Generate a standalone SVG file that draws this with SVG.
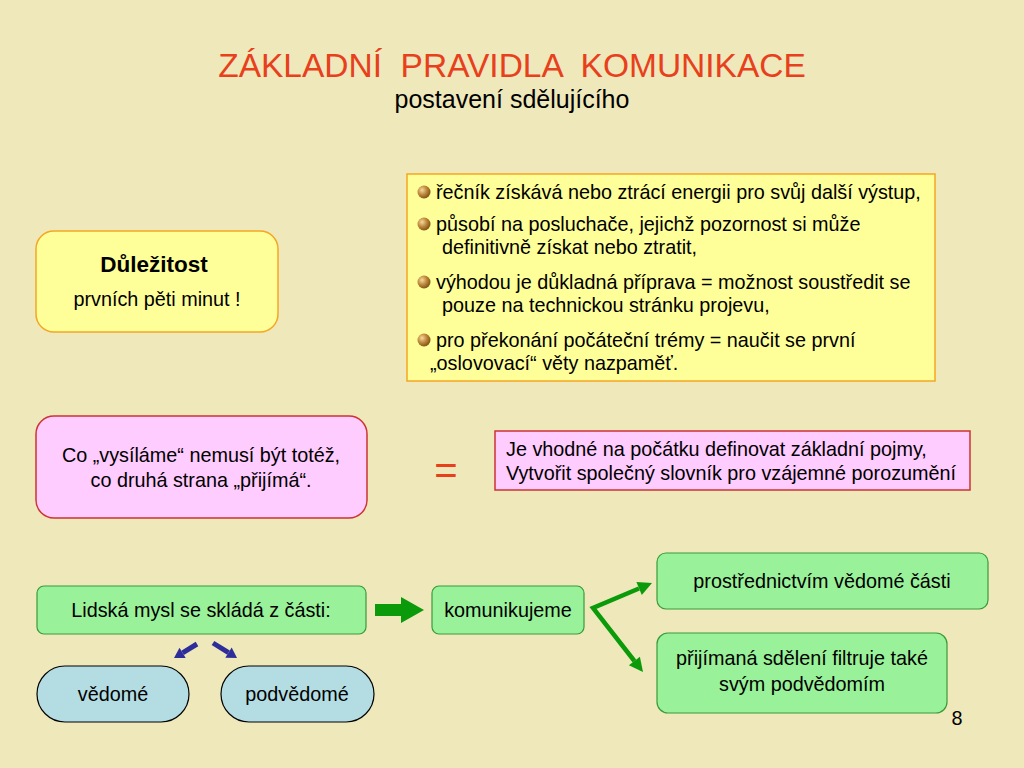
<svg xmlns="http://www.w3.org/2000/svg" width="1024" height="768" viewBox="0 0 1024 768">
<style>
text{font-family:"Liberation Sans",Arial,sans-serif;fill:#000;white-space:pre}
.t{font-size:19.8px}
.c{text-anchor:middle}
.yel{fill:#FFFF99;stroke:#F5A623;stroke-width:1.5}
.pink{fill:#FFCCFF;stroke:#CC3333;stroke-width:1.5}
.green{fill:#99F299;stroke:#3A9A3A;stroke-width:1.2}
.blue{fill:#B3DDE3;stroke:#000;stroke-width:1.2}
</style>
<defs>
<radialGradient id="ball" cx="0.35" cy="0.35" r="0.7">
<stop offset="0" stop-color="#F5D9A0"/>
<stop offset="0.5" stop-color="#C08A3A"/>
<stop offset="1" stop-color="#7A5018"/>
</radialGradient>
</defs>
<rect width="1024" height="768" fill="#EEE8BA"/>

<g id="title">
<text x="512" y="77" class="c" style="font-size:33.5px;fill:#E8401C">ZÁKLADNÍ  PRAVIDLA  KOMUNIKACE</text>
<text x="512" y="108" class="c" style="font-size:25px">postavení sdělujícího</text>
</g>

<g id="bullets">
<rect x="407" y="174" width="528" height="207" class="yel"/>
<circle cx="424" cy="192" r="6.5" fill="url(#ball)"/>
<circle cx="424" cy="224" r="6.5" fill="url(#ball)"/>
<circle cx="424" cy="282" r="6.5" fill="url(#ball)"/>
<circle cx="424" cy="340" r="6.5" fill="url(#ball)"/>
<text class="t" x="436" y="199">řečník získává nebo ztrácí energii pro svůj další výstup,</text>
<text class="t" x="436" y="231">působí na posluchače, jejichž pozornost si může</text>
<text class="t" x="442" y="254">definitivně získat nebo ztratit,</text>
<text class="t" x="436" y="289">výhodou je důkladná příprava = možnost soustředit se</text>
<text class="t" x="442" y="312">pouze na technickou stránku projevu,</text>
<text class="t" x="436" y="347">pro překonání počáteční trémy = naučit se první</text>
<text class="t" x="430" y="370">„oslovovací“ věty nazpaměť.</text>
</g>

<g id="dulezitost">
<rect x="36" y="231" width="242" height="101" rx="18" class="yel"/>
<text x="154" y="272" class="c" style="font-size:22.5px;font-weight:bold">Důležitost</text>
<text x="157" y="306" class="c t">prvních pěti minut !</text>
</g>

<g id="vysilame">
<rect x="36" y="416" width="331" height="102" rx="18" class="pink"/>
<text x="201" y="462" class="c t">Co „vysíláme“ nemusí být totéž,</text>
<text x="201" y="487" class="c t">co druhá strana „přijímá“.</text>
</g>

<g id="equals">
<text x="446" y="484" class="c" style="font-size:40px;fill:#E8401C">=</text>
</g>

<g id="pojmy">
<rect x="495" y="431" width="475" height="59" class="pink"/>
<text x="506" y="456" class="t">Je vhodné na počátku definovat základní pojmy,</text>
<text x="506" y="480" class="t">Vytvořit společný slovník pro vzájemné porozumění</text>
</g>

<g id="mysl">
<rect x="37" y="586" width="329" height="48" rx="7" class="green"/>
<text x="201" y="617" class="c t">Lidská mysl se skládá z části:</text>
</g>

<g id="komunikujeme">
<rect x="432" y="586" width="152" height="48" rx="7" class="green"/>
<text x="508" y="617" class="c t">komunikujeme</text>
</g>

<g id="vedome-cast">
<rect x="657" y="553" width="331" height="56" rx="9" class="green"/>
<text x="822" y="588" class="c t">prostřednictvím vědomé části</text>
</g>

<g id="filtruje">
<rect x="657" y="633" width="290" height="80" rx="11" class="green"/>
<text x="802" y="665" class="c t">přijímaná sdělení filtruje také</text>
<text x="802" y="691" class="c t">svým podvědomím</text>
</g>

<g id="vedome">
<rect x="37" y="666" width="152" height="56" rx="28" class="blue"/>
<text x="113" y="701" class="c t">vědomé</text>
</g>

<g id="podvedome">
<rect x="221" y="666" width="153" height="56" rx="28" class="blue"/>
<text x="297" y="701" class="c t">podvědomé</text>
</g>

<g id="connectors">
<path d="M375,604 H401 V597 L424,610 L401,623 V616 H375 z" fill="#0A9A0A"/>
<polyline points="639,588.5 593,608 634.4,661" fill="none" stroke="#0A9A0A" stroke-width="4.5" stroke-linejoin="miter"/>
<path d="M652,583 L641.8,594.9 L636.4,582.1 z" fill="#0A9A0A"/>
<path d="M643,672 L639.9,656.7 L628.9,665.3 z" fill="#0A9A0A"/>
<line x1="197" y1="644" x2="182.6" y2="652.8" stroke="#2E2E9A" stroke-width="5"/>
<path d="M174,658 L185.7,657.9 L179.5,647.7 z" fill="#2E2E9A"/>
<line x1="213" y1="643" x2="228.5" y2="652.7" stroke="#2E2E9A" stroke-width="5"/>
<path d="M237,658 L225.3,657.8 L231.7,647.6 z" fill="#2E2E9A"/>
</g>

<g id="page">
<text x="957" y="725" class="c" style="font-size:19.8px">8</text>
</g>
</svg>
